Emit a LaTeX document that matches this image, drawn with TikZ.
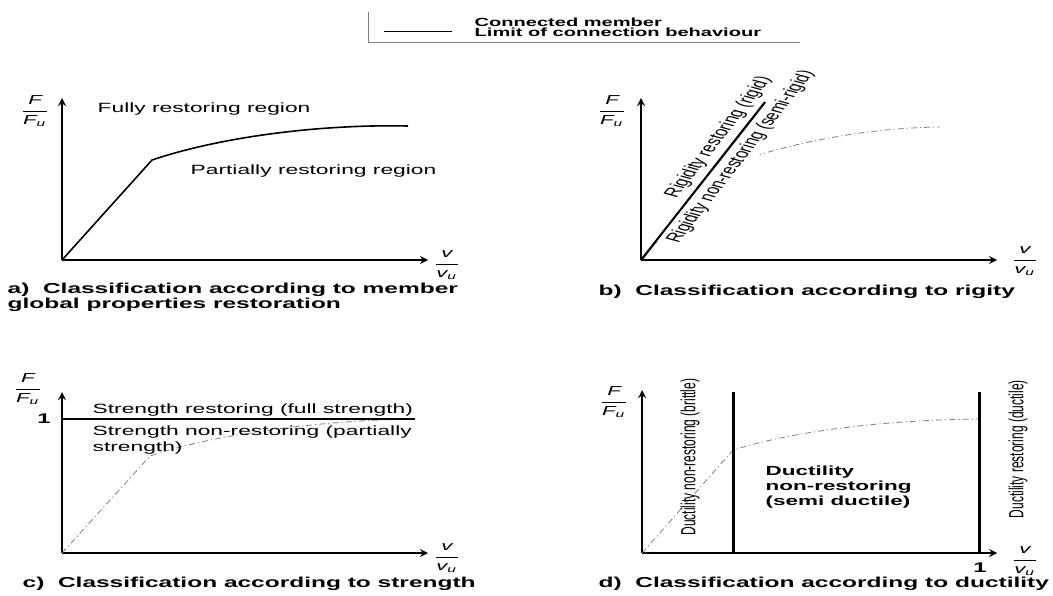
\documentclass[tikz,border=0pt]{standalone}
\usepackage{amsmath}
\usepackage{fontspec}
\setmainfont{Liberation Sans}
\usepackage{tikz}
\usetikzlibrary{arrows}

\newcommand{\FFu}{$\dfrac{\textit{F}}{\textit{F}_{\textit{u}}}$}
\newcommand{\vvu}{$\dfrac{\textit{v}}{\textit{v}_{\textit{u}}}$}

\begin{document}
\begin{tikzpicture}[x=0.2941pt,y=-0.5pt,xscale=1.7,transform shape,
		axis/.style={thick,-stealth},
		limit/.style={line width=1.1pt},
		member/.style={gray,thin,dash pattern=on 3pt off 1.5pt on 0.6pt off 1.5pt},
		lbl/.style={font=\fontsize{6.7}{8}\selectfont,inner sep=0pt,anchor=base west},
		leg/.style={font=\bfseries\fontsize{5.9}{7}\selectfont,inner sep=0pt,anchor=base west},
		captxt/.style={font=\bfseries\fontsize{7.2}{9}\selectfont,inner sep=0pt,anchor=base west},
		ratio/.style={font=\fontsize{6.5}{8}\selectfont,inner sep=0pt},
		rlbl/.style={font=\fontsize{6.4}{7}\selectfont,rotate=65,inner sep=1.5pt},
		vlbl/.style={font=\fontsize{6}{7}\selectfont,rotate=90,inner sep=0pt}]
	
	\useasboundingbox (0,0) rectangle (1053,595);
	
	% legend
	\draw[gray] (368,12) -- (368,42) -- (800,42);
	\coordinate (l1) at (384,31);
	\coordinate (l2) at (452,31);
	\draw (l1) -- (l2);
	\node[leg] (legmem) at (474,26) {Connected member};
	\node[leg] (leglim) at (474,36) {Limit of connection behaviour};
	
	% a) global properties
	\coordinate (oa) at (62,260);
	\coordinate (ya) at (62,98);
	\coordinate (xa) at (428,260);
	\coordinate (ka) at (152,160);
	\draw[axis] (oa) -- (ya);
	\draw[axis] (oa) -- (xa);
	\draw[thick] (oa) -- (ka) .. controls (220,137) and (320,124) .. (408,126);
	\node[ratio] (fa) at (35,111) {\FFu};
	\node[ratio] (va) at (447,265) {\vvu};
	\node[lbl] (full) at (97,112) {Fully restoring region};
	\node[lbl] (part) at (190,174) {Partially restoring region};
	\node[captxt] (capa1) at (7,293) {a)\ \ Classification according to member};
	\node[captxt] (capa2) at (7,308) {global properties restoration};
	
	% b) rigidity
	\coordinate (ob) at (641,260);
	\coordinate (yb) at (641,98);
	\coordinate (xb) at (997,260);
	\coordinate (kb) at (720,168);
	\coordinate (rb) at (765,102);
	\draw[axis] (ob) -- (yb);
	\draw[axis] (ob) -- (xb);
	\draw[member] (ob) -- (kb) .. controls (780,145) and (860,128) .. (940,127);
	\draw[limit] (ob) -- (rb)
		node[rlbl,pos=.75,anchor=south] (rig) {Rigidity restoring (rigid)}
		node[rlbl,pos=.68,anchor=north,fill=white] (semi) {Rigidity non-restoring (semi-rigid)};
	\node[ratio] (fb) at (612,111) {\FFu};
	\node[ratio] (vb) at (1025,261) {\vvu};
	\node[captxt] (capb) at (598,295) {b)\ \ Classification according to rigity};
	
	% c) strength
	\coordinate (oc) at (62,553);
	\coordinate (yc) at (62,392);
	\coordinate (xc) at (428,553);
	\coordinate (kc) at (150,456);
	\coordinate (sc1) at (62,419);
	\coordinate (sc2) at (415,419);
	\draw[axis] (oc) -- (yc);
	\draw[axis] (oc) -- (xc);
	\draw[member] (oc) -- (kc) .. controls (210,435) and (320,420) .. (415,419);
	\draw[limit] (sc1) -- (sc2);
	\node[ratio] (fc) at (28,389) {\FFu};
	\node[font=\bfseries\fontsize{7}{8}\selectfont,inner sep=0pt] (onec) at (44,419) {1};
	\node[ratio] (vc) at (447,558) {\vvu};
	\node[lbl] (sres) at (92,413) {Strength restoring (full strength)};
	\node[lbl,align=left,anchor=north west] (snon) at (92,425)
		{Strength non-restoring (partially\\strength)};
	\node[captxt] (capc) at (22,587) {c)\ \ Classification according to strength};
	
	% d) ductility
	\coordinate (od) at (642,553);
	\coordinate (yd) at (642,390);
	\coordinate (xd) at (997,553);
	\coordinate (kd) at (733,450);
	\coordinate (d1b) at (733,553);
	\coordinate (d1t) at (733,392);
	\coordinate (d2b) at (979,553);
	\coordinate (d2t) at (979,392);
	\draw[axis] (od) -- (yd);
	\draw[axis] (od) -- (xd);
	\draw[member] (od) -- (kd) .. controls (790,432) and (880,420) .. (979,419);
	\draw[line width=1.4pt] (d1b) -- (d1t);
	\draw[line width=1.4pt] (d2b) -- (d2t);
	\node[ratio] (fd) at (614,402) {\FFu};
	\node[ratio] (vd) at (1025,561) {\vvu};
	\node[font=\bfseries\fontsize{7}{8}\selectfont,inner sep=0pt] (oned) at (980,568) {1};
	\node[vlbl] (brit) at (690,457) {Ductility non-restoring (brittle)};
	\node[vlbl] (duct) at (1018,449) {Ductility restoring (ductile)};
	\node[font=\bfseries\fontsize{6.6}{7.5}\selectfont,inner sep=0pt,align=left,anchor=west] (semid) at (765,487)
		{Ductility\\non-restoring\\(semi ductile)};
	\node[captxt] (capd) at (598,587) {d)\ \ Classification according to ductility};
\end{tikzpicture}
\end{document}
